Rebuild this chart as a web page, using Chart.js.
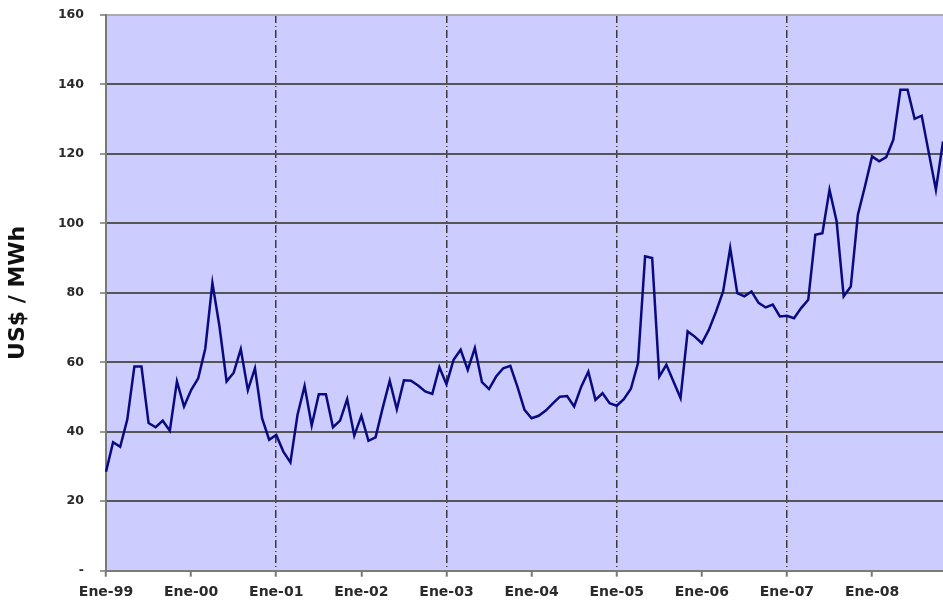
<!DOCTYPE html>
<html><head><meta charset="utf-8">
<script src="https://cdn.jsdelivr.net/npm/chart.js@4.4.0/dist/chart.umd.min.js"></script>
<style>html,body{margin:0;padding:0;background:#fff;}#wrap{width:943px;height:600px;position:relative;overflow:hidden;}</style>
</head><body><div id="wrap"><canvas id="c" width="943" height="600"></canvas></div>
<script>
const monthNames = ['Ene','Feb','Mar','Abr','May','Jun','Jul','Ago','Sep','Oct','Nov','Dic'];
const years = ['99','00','01','02','03','04','05','06','07','08'];
const yTicks = [0,20,40,60,80,100,120,140,160];
const prices = [
 28.5,37,35.7,43.5,58.8,58.8,42.5,41.3,43.2,40.3,54.5,47.3,
 52,55.4,64,82.8,70.3,54.5,57,63.8,52,58.3,43.9,37.7,
 39.1,34.3,31.2,44.9,53.2,41.8,50.8,50.8,41.3,43.2,49.4,38.9,
 44.6,37.4,38.4,46.8,54.7,46.5,54.8,54.7,53.3,51.6,50.9,58.6,
 53.7,60.7,63.6,57.8,64.1,54.3,52.3,55.9,58.3,59,53,46.3,
 43.9,44.6,46.1,48.2,50.1,50.3,47.3,53,57.3,49.2,51.1,48.2,
 47.5,49.4,52.4,59.8,90.5,90,55.9,59.3,54.5,49.7,68.9,67.4,
 65.5,69.4,74.6,80.4,92.9,79.9,79,80.4,77.1,75.8,76.6,73.2,
 73.4,72.7,75.6,78,96.7,97.2,109.7,100.6,79,81.8,102.5,110.7,
 119.3,117.9,119.1,124.1,138.5,138.5,130.1,131,120.3,109.7,123.6
];
const categories = [];
for (const y of years) for (const m of monthNames) categories.push(m + '-' + y);
categories.length = prices.length;

const bg = {id:'bg', beforeDraw(chart){
  const {ctx, chartArea:a} = chart;
  ctx.save(); ctx.fillStyle = '#ccccff';
  ctx.fillRect(a.left, a.top, a.right - a.left, a.bottom - a.top);
  ctx.restore();
}};

new Chart(document.getElementById('c'), {
  type: 'line',
  data: { labels: categories, datasets: [{ data: prices, borderColor: '#0a0a80', borderWidth: 2.5, pointRadius: 0, tension: 0, fill: false }] },
  plugins: [bg],
  options: {
    responsive: false, animation: false, devicePixelRatio: 1,
    layout: { padding: { top: 15, right: 0, left: 0, bottom: 0 } },
    plugins: { legend: { display: false }, tooltip: { enabled: false } },
    scales: {
      x: {
        type: 'category', offset: false,
        grid: {
          color: c => (c.index > 0 && c.index % 24 === 0) ? '#3a3a3a' : 'transparent',
          lineWidth: 1.5, drawTicks: true, tickLength: 6,
          tickColor: c => (c.index % 12 === 0) ? '#777' : 'transparent', tickWidth: 2
        },
        border: { display: true, color: '#7a7a7a', width: 2, dash: [8, 3, 1, 3] },
        ticks: {
          autoSkip: false, maxRotation: 0, minRotation: 0, padding: 7, color: '#2a2a2a',
          font: { family: 'DejaVu Sans', weight: 'bold', size: 14 },
          callback: (v, i) => (i % 12 === 0) ? categories[i] : ''
        },
        afterFit: s => { s.height = 29.3; s.paddingLeft = 0; s.paddingRight = 0; }
      },
      y: {
        min: 0, max: 160,
        afterBuildTicks: s => { s.ticks = yTicks.map(v => ({ value: v })); },
        grid: {
          color: c => c.tick && c.tick.value === 160 ? '#aaaaaa' : (c.tick && c.tick.value === 0 ? 'transparent' : '#555'),
          lineWidth: 2, tickLength: 6, tickColor: '#777', tickWidth: 1.5
        },
        border: { color: '#7a7a7a', width: 2 },
        ticks: {
          padding: 16, color: '#2a2a2a',
          font: { family: 'DejaVu Sans', weight: 'bold', size: 12.5 },
          callback: v => v === 0 ? '-' : String(v)
        },
        title: { display: true, text: 'US$ / MWh', color: '#111', font: { family: 'DejaVu Sans', weight: 'bold', size: 22 }, padding: { top: 5, bottom: 0 } },
        afterFit: s => { s.width = 106; s.paddingTop = 0; s.paddingBottom = 0; }
      }
    }
  }
});
</script></body></html>
